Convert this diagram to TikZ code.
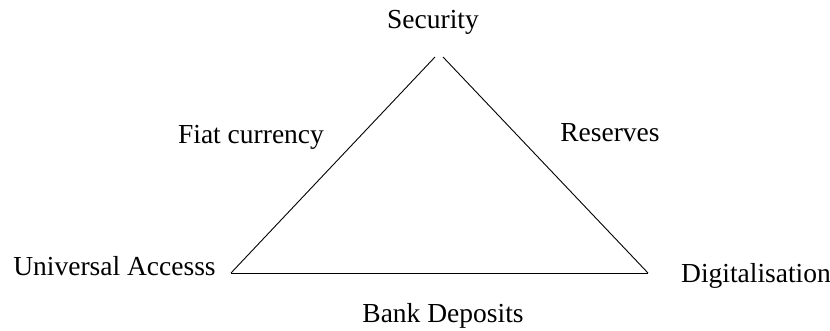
\documentclass[tikz,border=0pt]{standalone}
\usepackage{fontspec}
\setmainfont{Liberation Serif}
\tikzset{
  lbl/.style={anchor=base, inner sep=0pt, font=\fontsize{27.5}{33}\selectfont},
}
\begin{document}
\begin{tikzpicture}[x=1pt, y=1pt]
\useasboundingbox (0, 0) rectangle (830, 330);
% corners
\coordinate (topL) at (435, 273);
\coordinate (topR) at (443, 273);
\coordinate (botL) at (231, 57);
\coordinate (botR) at (648, 57);
% labels
\node[lbl] (sec)  at (433, 301) {Security};
\node[lbl] (fiat) at (251, 187) {Fiat currency};
\node[lbl] (res)  at (610, 189) {Reserves};
\node[lbl] (uni)  at (114.5, 55) {Universal Accesss};
\node[lbl] (dig)  at (756, 48) {Digitalisation};
\node[lbl] (bank) at (443, 8) {Bank Deposits};
% sides
\draw[line width=0.9pt] (botL) -- (topL);
\draw[line width=0.9pt] (topR) -- (botR);
\draw[line width=0.9pt] (botL) -- (botR);
\end{tikzpicture}
\end{document}
